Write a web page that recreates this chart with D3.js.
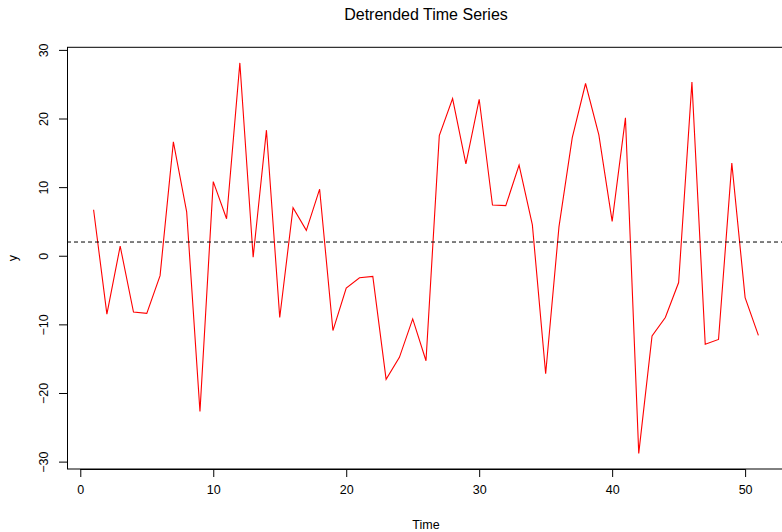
<!DOCTYPE html>
<html>
<head>
<meta charset="utf-8">
<script src="https://cdn.jsdelivr.net/npm/d3@7"></script>
<style>
  html, body { margin: 0; padding: 0; background: #fff; }
  svg { display: block; font-family: "Liberation Sans", Arial, Helvetica, sans-serif; }
</style>
</head>
<body>
<svg id="chart" width="782" height="532"></svg>
<script>
// Detrended series, one value per time step
const time = [1,2,3,4,5,6,7,8,9,10,11,12,13,14,15,16,17,18,19,20,21,22,23,24,25,
  26,27,28,29,30,31,32,33,34,35,36,37,38,39,40,41,42,43,44,45,46,47,48,49,50,51];
const yValues = [6.7, -8.5, 1.4, -8.2, -8.4, -2.9, 16.6, 6.4, -22.7, 10.8,
  5.4, 28.1, -0.2, 18.3, -9.0, 7.0, 3.7, 9.7, -10.9, -4.7,
  -3.2, -3.0, -18.0, -14.8, -9.2, -15.3, 17.5, 22.9, 13.4, 22.8,
  7.4, 7.3, 13.2, 4.5, -17.2, 4.2, 17.2, 25.1, 17.6, 5.0,
  20.1, -28.8, -11.7, -9.0, -3.9, 25.3, -12.9, -12.2, 13.5, -6.1, -11.6];
const refLevel = 2.0;
const xTicks = [0, 10, 20, 30, 40, 50];
const yTicks = [-30, -20, -10, 0, 10, 20, 30];
const titleText = "Detrended Time Series";
const xLabel = "Time";
const yLabel = "y";

const svg = d3.select("#chart");
const plot = { left: 67, top: 47.3, right: 785, bottom: 469 };

// padded domains (4% on each side)
function padded(ext) { const d = (ext[1] - ext[0]) * 0.04; return [ext[0] - d, ext[1] + d]; }
const x = d3.scaleLinear().domain(padded(d3.extent(time))).range([plot.left, plot.right]);
const y = d3.scaleLinear().domain(padded(d3.extent(yValues))).range([plot.bottom, plot.top]);

svg.append("defs").append("clipPath").attr("id", "clip")
  .append("rect").attr("x", plot.left).attr("y", plot.top)
  .attr("width", plot.right - plot.left).attr("height", plot.bottom - plot.top);

// frame around plotting region
svg.append("rect")
  .attr("x", plot.left + 0.5).attr("y", plot.top)
  .attr("width", plot.right - plot.left).attr("height", plot.bottom - plot.top)
  .attr("fill", "none").attr("stroke", "#000").attr("stroke-width", 1);

const g = svg.append("g").attr("clip-path", "url(#clip)");

// series line
const line = d3.line().x((d, i) => x(time[i])).y(d => y(d));
g.append("path").datum(yValues)
  .attr("d", line)
  .attr("fill", "none").attr("stroke", "#ff0000").attr("stroke-width", 1.1)
  .attr("stroke-linejoin", "miter");

// horizontal reference line
g.append("line")
  .attr("x1", plot.left).attr("x2", plot.right)
  .attr("y1", y(refLevel)).attr("y2", y(refLevel))
  .attr("stroke", "#000").attr("stroke-width", 1).attr("stroke-dasharray", "4,3");

// x axis
const xAxis = d3.axisBottom(x).tickValues(xTicks).tickSize(8).tickPadding(8).tickFormat(d3.format("d"));
const gx = svg.append("g").attr("transform", `translate(0,${plot.bottom})`).call(xAxis);
gx.select(".domain").attr("d", `M${x(xTicks[0])},0.5H${x(xTicks[xTicks.length - 1])}`);
gx.selectAll("text").attr("font-size", "12.5px").attr("font-family", null).attr("fill", "#000");
gx.selectAll("line, path").attr("stroke", "#000");

// y axis with rotated labels
const yAxis = d3.axisLeft(y).tickValues(yTicks).tickSize(8).tickFormat(d => d < 0 ? "\u2212" + Math.abs(d) : d);
const gy = svg.append("g").attr("transform", `translate(${plot.left},0)`).call(yAxis);
gy.select(".domain").attr("d", `M0.5,${y(yTicks[0])}V${y(yTicks[yTicks.length - 1])}`);
gy.selectAll("line, path").attr("stroke", "#000");
gy.selectAll(".tick text")
  .attr("font-size", "12.5px").attr("font-family", null).attr("fill", "#000")
  .attr("x", null).attr("dy", null)
  .attr("text-anchor", "middle")
  .attr("transform", "translate(-19,0) rotate(-90)");

// titles
svg.append("text").attr("x", (plot.left + plot.right) / 2).attr("y", 20)
  .attr("text-anchor", "middle").attr("font-size", "16px").text(titleText);
svg.append("text").attr("x", (plot.left + plot.right) / 2).attr("y", 529)
  .attr("text-anchor", "middle").attr("font-size", "12.5px").text(xLabel);
svg.append("text").attr("transform", `translate(17,${(plot.top + plot.bottom) / 2}) rotate(-90)`)
  .attr("text-anchor", "middle").attr("font-size", "12.5px").text(yLabel);
</script>
</body>
</html>
